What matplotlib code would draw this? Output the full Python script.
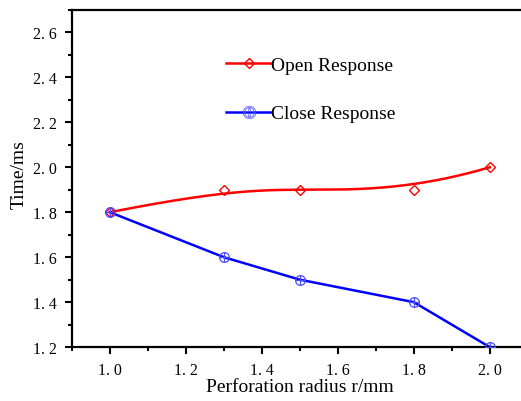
import numpy as np
import matplotlib
matplotlib.use("Agg")
from matplotlib import pyplot as plt
from matplotlib.ticker import MultipleLocator
from matplotlib.lines import Line2D

radius = [1.0, 1.3, 1.5, 1.8, 2.0]
open_response = [1.8, 1.9, 1.9, 1.9, 2.0]
close_response = [1.8, 1.6, 1.5, 1.4, 1.2]

plt.rcParams['font.family'] = ['Liberation Serif', 'DejaVu Serif']


def bspline(px, py, n=200, k=3):
    # clamped B-spline with the data points as control points (like Origin's B-spline line)
    m = len(px)
    knots = np.concatenate([np.zeros(k), np.linspace(0, 1, m - k + 1), np.ones(k)])
    t = np.linspace(0, 1, n)
    t[-1] = 1 - 1e-9

    def basis(i, d, u):
        if d == 0:
            return ((knots[i] <= u) & (u < knots[i + 1])).astype(float)
        a = 0.0
        b = 0.0
        if knots[i + d] != knots[i]:
            a = (u - knots[i]) / (knots[i + d] - knots[i]) * basis(i, d - 1, u)
        if knots[i + d + 1] != knots[i + 1]:
            b = (knots[i + d + 1] - u) / (knots[i + d + 1] - knots[i + 1]) * basis(i + 1, d - 1, u)
        return a + b

    B = np.array([basis(i, k, t) for i in range(m)])
    return B.T @ np.array(px), B.T @ np.array(py)


fig = plt.figure(figsize=(5.21, 4.02), dpi=100)
ax = fig.add_axes([0.138, 0.134, 0.875, 0.839])

sx, sy = bspline(radius, open_response)
ax.plot(sx, sy, color='red', lw=1.8, zorder=2)
ax.plot(radius, open_response, linestyle='none', marker='D', ms=5,
        mfc='none', mec='red', mew=1.0, zorder=3)

ax.plot(radius, close_response, color='blue', lw=1.8, zorder=2)
ax.plot(radius, close_response, linestyle='none', marker='o', ms=7,
        mfc='none', mec='#4a4aff', mew=0.9, zorder=3)
ax.plot(radius, close_response, linestyle='none', marker='+', ms=7,
        mec='#4a4aff', mew=0.9, zorder=3)

h_open = Line2D([], [], color='red', lw=1.8, marker='D', ms=5, mfc='none', mec='red', mew=1.0)
h_close = Line2D([], [], color='blue', lw=1.8, marker='$\\oplus$', ms=9, mfc='none', mec='#4a4aff', mew=0.5)
ax.legend([h_open, h_close], ['Open Response', 'Close Response'], frameon=False,
          loc='upper left', bbox_to_anchor=(0.3, 0.915), fontsize=14,
          handlelength=2.3, handletextpad=0.0, labelspacing=1.6, markerscale=1.0)

ax.set_xlim(0.9, 2.1)
ax.set_ylim(1.2, 2.7)
ax.xaxis.set_minor_locator(MultipleLocator(0.1))
ax.yaxis.set_minor_locator(MultipleLocator(0.1))
ax.set_xticks([1.0, 1.2, 1.4, 1.6, 1.8, 2.0])
ax.set_yticks([1.2, 1.4, 1.6, 1.8, 2.0, 2.2, 2.4, 2.6])
ax.set_xticklabels(['1. 0', '1. 2', '1. 4', '1. 6', '1. 8', '2. 0'])
ax.set_yticklabels(['1. 2', '1. 4', '1. 6', '1. 8', '2. 0', '2. 2', '2. 4', '2. 6'])
ax.tick_params(which='major', direction='out', length=5, width=1.5, labelsize=11.5, pad=6)
ax.tick_params(which='minor', direction='out', length=3, width=1.5)
for s in ax.spines.values():
    s.set_linewidth(1.6)

ax.set_xlabel('Perforation radius r/mm', fontsize=14, labelpad=0)
ax.set_ylabel('Time/ms', fontsize=14)
ax.yaxis.set_label_coords(-0.096, 0.516)

plt.savefig('out.png', dpi=100)
